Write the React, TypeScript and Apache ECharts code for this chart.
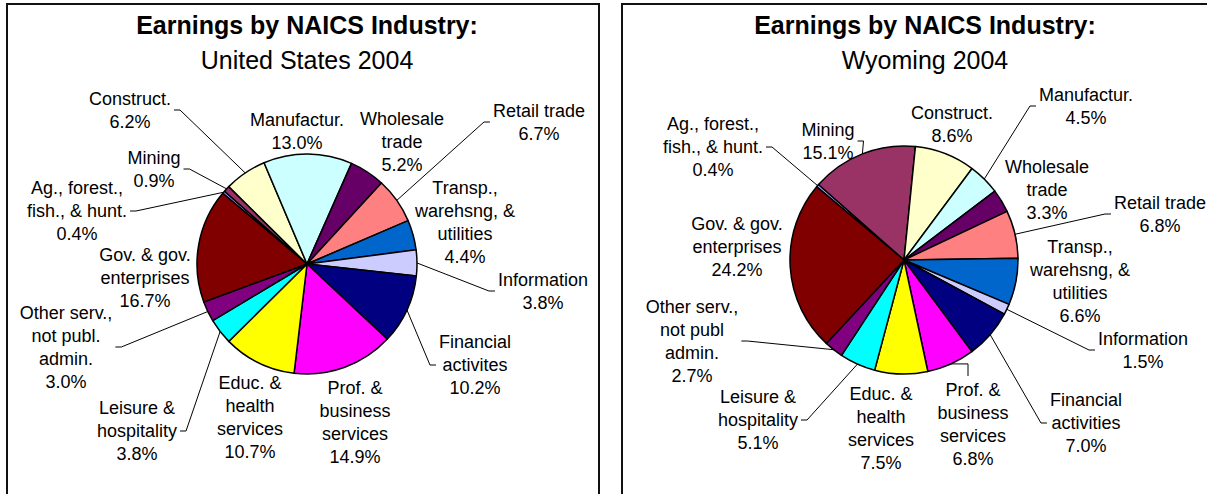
import React, { useEffect, useRef } from "react";
import * as echarts from "echarts";

// ---------- data ----------
const categoriesUS = [
  "Ag., forest.,\nfish., & hunt.",
  "Mining",
  "Construct.",
  "Manufactur.",
  "Wholesale\ntrade",
  "Retail trade",
  "Transp.,\nwarehsng, &\nutilities",
  "Information",
  "Financial\nactivites",
  "Prof. &\nbusiness\nservices",
  "Educ. &\nhealth\nservices",
  "Leisure &\nhospitality",
  "Other serv.,\nnot publ.\nadmin.",
  "Gov. & gov.\nenterprises",
];
const categoriesWY = [
  "Ag., forest.,\nfish., & hunt.",
  "Mining",
  "Construct.",
  "Manufactur.",
  "Wholesale\ntrade",
  "Retail trade",
  "Transp.,\nwarehsng, &\nutilities",
  "Information",
  "Financial\nactivities",
  "Prof. &\nbusiness\nservices",
  "Educ. &\nhealth\nservices",
  "Leisure &\nhospitality",
  "Other serv.,\nnot publ\nadmin.",
  "Gov. & gov.\nenterprises",
];
const valuesUS = [0.4, 0.9, 6.2, 13.0, 5.2, 6.7, 4.4, 3.8, 10.2, 14.9, 10.7, 3.8, 3.0, 16.7];
const valuesWY = [0.4, 15.1, 8.6, 4.5, 3.3, 6.8, 6.6, 1.5, 7.0, 6.8, 7.5, 5.1, 2.7, 24.2];
const sliceColors = [
  "#9999FF", "#993366", "#FFFFCC", "#CCFFFF", "#660066", "#FF8080", "#0066CC",
  "#CCCCFF", "#000080", "#FF00FF", "#FFFF00", "#00FFFF", "#800080", "#800000",
];
const titleText = "Earnings by NAICS Industry:";
const subtitles = ["United States 2004", "Wyoming 2004"];

// ---------- layout ----------
const FONT = '"Liberation Sans", Arial, sans-serif';
const START_ANGLE = 140;
const PIES = [
  { cx: 307, cy: 264, r: 110, titleX: 307 },
  { cx: 904, cy: 260, r: 114, titleX: 925 },
];
// label block centre, relative to pie centre
const labelOffsetsUS = [
  [-230, -53], [-153, -95], [-177, -154], [-10, -133], [95, -122], [232, -142], [158, -42],
  [236, 27], [168, 101], [48, 158], [-57, 153], [-170, 167], [-241, 83], [-162, 14],
];
const labelOffsetsWY = [
  [-191, -113], [-76, -119], [48, -136], [182, -154], [143, -70], [256, -46], [176, 21],
  [239, 90], [182, 163], [69, 164], [-23, 168], [-146, 160], [-212, 81], [-167, -13],
];
// which side of the label the leader line attaches to ("" = no leader)
const leadersUS = ["right", "right", "right", "", "", "left", "", "left", "left", "", "", "right", "right", ""];
const leadersWY = ["right", "right", "", "left", "", "left", "", "left", "left", "top", "", "right", "right", ""];

function midAngle(values: number[], i: number) {
  const total = values.reduce((a, b) => a + b, 0);
  let cum = 0;
  for (let k = 0; k < i; k++) cum += values[k];
  const mid = cum + values[i] / 2;
  return ((START_ANGLE - (mid / total) * 360) * Math.PI) / 180;
}

function makeSeries(
  names: string[],
  values: number[],
  pie: { cx: number; cy: number; r: number },
  offsets: number[][],
  leaders: string[]
) {
  return {
    type: "pie",
    center: [pie.cx, pie.cy],
    radius: pie.r,
    startAngle: START_ANGLE,
    clockwise: true,
    avoidLabelOverlap: false,
    silent: true,
    minShowLabelAngle: 0,
    itemStyle: { borderColor: "#000", borderWidth: 1.5 },
    label: {
      show: true,
      position: "outside",
      color: "#000",
      fontFamily: FONT,
      fontSize: 18,
      lineHeight: 23,
      align: "center",
      formatter: (p: any) => `${p.name}\n${Number(p.value).toFixed(1)}%`,
    },
    labelLine: {
      show: true,
      length: 8,
      length2: 8,
      smooth: false,
      lineStyle: { color: "#000", width: 1 },
    },
    emphasis: { disabled: true },
    data: names.map((n, i) => ({
      name: n,
      value: values[i],
      itemStyle: { color: sliceColors[i] },
      labelLine: { show: leaders[i] !== "" },
    })),
    labelLayout: (params: any) => {
      const i = params.dataIndex;
      const x = pie.cx + offsets[i][0];
      const y = pie.cy + offsets[i][1];
      const w = params.labelRect.width;
      const h = params.labelRect.height;
      const a = midAngle(values, i);
      const ex = pie.cx + pie.r * Math.cos(a);
      const ey = pie.cy - pie.r * Math.sin(a);
      const kind = leaders[i];
      const res: any = { x, y, align: "center", verticalAlign: "middle" };
      if (kind === "right") {
        const ax = x + w / 2 + 3;
        res.labelLinePoints = [[ex, ey], [ax + 6, y], [ax, y]];
      } else if (kind === "left") {
        const ax = x - w / 2 - 3;
        res.labelLinePoints = [[ex, ey], [ax - 6, y], [ax, y]];
      } else if (kind === "top") {
        const lx = x - 5;
        res.labelLinePoints = [[ex, ey], [lx, ey], [lx, y - h / 2 - 2]];
      }
      return res;
    },
  };
}

export default function App() {
  const ref = useRef<HTMLDivElement>(null);
  useEffect(() => {
    if (!ref.current) return;
    const chart = echarts.init(ref.current, undefined, { renderer: "svg" });
    const graphics: any[] = [
      {
        type: "rect",
        shape: { x: 7, y: 4, width: 592, height: 530 },
        style: { fill: "none", stroke: "#111", lineWidth: 2 },
        silent: true,
      },
      {
        type: "rect",
        shape: { x: 622, y: 4, width: 640, height: 530 },
        style: { fill: "none", stroke: "#111", lineWidth: 2 },
        silent: true,
      },
    ];
    PIES.forEach((p, k) => {
      graphics.push({
        type: "text",
        x: p.titleX,
        y: 25,
        style: {
          text: titleText,
          fontFamily: FONT,
          fontSize: 25,
          fontWeight: "bold",
          fill: "#000",
          align: "center",
          verticalAlign: "middle",
        },
      });
      graphics.push({
        type: "text",
        x: p.titleX,
        y: 60,
        style: {
          text: subtitles[k],
          fontFamily: FONT,
          fontSize: 25,
          fill: "#000",
          align: "center",
          verticalAlign: "middle",
        },
      });
    });
    chart.setOption({
      animation: false,
      backgroundColor: "#fff",
      graphic: graphics,
      series: [
        makeSeries(categoriesUS, valuesUS, PIES[0], labelOffsetsUS, leadersUS),
        makeSeries(categoriesWY, valuesWY, PIES[1], labelOffsetsWY, leadersWY),
      ],
    });
    return () => chart.dispose();
  }, []);
  return (
    <div
      ref={ref}
      style={{ position: "absolute", left: 0, top: 0, width: 1207, height: 494 }}
    />
  );
}
